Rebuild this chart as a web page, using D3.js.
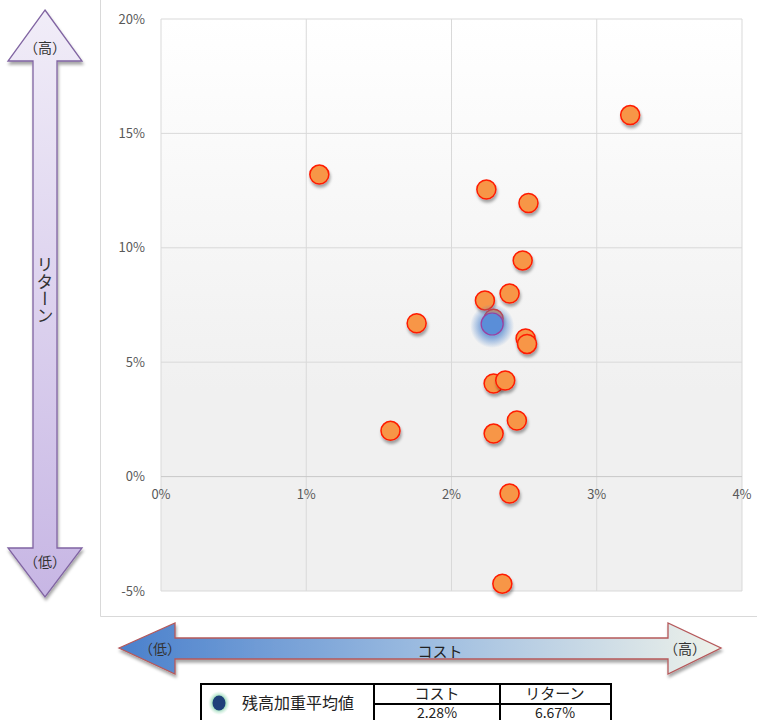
<!DOCTYPE html>
<html>
<head>
<meta charset="utf-8">
<script src="https://cdn.jsdelivr.net/npm/d3@7"></script>
<style>
  body { margin: 0; background: #fff; }
  svg { display: block; font-family: "Noto Sans CJK JP", "Noto Sans", sans-serif; }
</style>
</head>
<body>
<svg id="chart" width="757" height="720"></svg>
<script>
// コスト / リターン (%)
var costs   = [3.23, 1.09, 2.24, 2.53, 2.49, 2.40, 2.23, 2.29, 1.76, 2.51, 2.52, 2.29, 2.37, 2.45, 1.58, 2.29, 2.40, 2.35];
var returns = [15.8, 13.2, 12.55, 11.96, 9.45, 8.0, 7.7, 6.9, 6.7, 6.04, 5.8, 4.07, 4.2, 2.45, 2.0, 1.88, -0.74, -4.68];
var avgCost = 2.28, avgReturn = 6.67;
var xTicks = [0, 1, 2, 3, 4];
var yTicks = [-5, 0, 5, 10, 15, 20];
var legendName = '残高加重平均値';
var tableHeads = ['コスト', 'リターン'];

var svg = d3.select('#chart');
var x = d3.scaleLinear().domain([0, 4]).range([161, 742]);
var y = d3.scaleLinear().domain([-5, 20]).range([591, 19]);

var defs = svg.append('defs');
var bg = defs.append('linearGradient').attr('id', 'bg').attr('x1', 0).attr('y1', 0).attr('x2', 0).attr('y2', 1);
bg.append('stop').attr('offset', '0').attr('stop-color', '#ffffff');
bg.append('stop').attr('offset', '0.65').attr('stop-color', '#f0f0f0');
bg.append('stop').attr('offset', '1').attr('stop-color', '#f0f0f0');

var vg = defs.append('linearGradient').attr('id', 'vg').attr('x1', 0).attr('y1', 0).attr('x2', 0).attr('y2', 1);
vg.append('stop').attr('offset', '0').attr('stop-color', '#f1edf8');
vg.append('stop').attr('offset', '1').attr('stop-color', '#c7b6e4');

var hg = defs.append('linearGradient').attr('id', 'hg').attr('x1', 0).attr('y1', 0).attr('x2', 1).attr('y2', 0);
hg.append('stop').attr('offset', '0').attr('stop-color', '#4a80cc');
hg.append('stop').attr('offset', '0.5').attr('stop-color', '#9bbbe0');
hg.append('stop').attr('offset', '1').attr('stop-color', '#eef2ea');

var sh = defs.append('filter').attr('id', 'shadow').attr('x', '-50%').attr('y', '-50%').attr('width', '200%').attr('height', '200%');
sh.append('feDropShadow').attr('dx', 1).attr('dy', 3).attr('stdDeviation', 1.6).attr('flood-color', '#000').attr('flood-opacity', 0.35);

var glow = defs.append('radialGradient').attr('id', 'glow');
glow.append('stop').attr('offset', '0.5').attr('stop-color', '#4f86cf').attr('stop-opacity', 0.7);
glow.append('stop').attr('offset', '1').attr('stop-color', '#4f86cf').attr('stop-opacity', 0);

var lglow = defs.append('radialGradient').attr('id', 'lglow');
lglow.append('stop').attr('offset', '0.55').attr('stop-color', '#7fd0a8').attr('stop-opacity', 0.9);
lglow.append('stop').attr('offset', '1').attr('stop-color', '#bfe8d0').attr('stop-opacity', 0);

// chart area frame
svg.append('path').attr('d', 'M100.5,0 V616.5 H757').attr('fill', 'none').attr('stroke', '#d9d9d9');

// plot area
svg.append('rect').attr('x', x(0)).attr('y', y(20)).attr('width', x(4) - x(0)).attr('height', y(-5) - y(20)).attr('fill', 'url(#bg)');

svg.append('g').selectAll('line').data(xTicks).join('line')
  .attr('x1', d => x(d)).attr('x2', d => x(d)).attr('y1', y(20)).attr('y2', y(-5))
  .attr('stroke', '#d9d9d9');
svg.append('g').selectAll('line').data(yTicks).join('line')
  .attr('x1', x(0)).attr('x2', x(4)).attr('y1', d => y(d)).attr('y2', d => y(d))
  .attr('stroke', d => d === 0 ? '#c8c8c8' : '#d9d9d9');

svg.append('g').selectAll('text').data(yTicks).join('text')
  .attr('x', 145).attr('y', d => y(d)).attr('dy', '0.35em')
  .attr('text-anchor', 'end').attr('font-size', 13).attr('fill', '#595959')
  .text(d => d + '%');
svg.append('g').selectAll('text').data(xTicks).join('text')
  .attr('x', d => x(d)).attr('y', y(0) + 22)
  .attr('text-anchor', 'middle').attr('font-size', 13).attr('fill', '#595959')
  .text(d => d + '%');

// points
var pts = costs.map((c, i) => ({ c: c, r: returns[i] }));
svg.append('g').selectAll('circle').data(pts).join('circle')
  .attr('cx', d => x(d.c)).attr('cy', d => y(d.r)).attr('r', 9.5)
  .attr('fill', '#f79646').attr('stroke', '#ff1a00').attr('stroke-width', 1.5)
  .attr('filter', 'url(#shadow)');

svg.append('circle').attr('cx', x(avgCost)).attr('cy', y(avgReturn) + 2).attr('r', 22).attr('fill', 'url(#glow)');
svg.append('circle').attr('cx', x(avgCost)).attr('cy', y(avgReturn)).attr('r', 11)
  .attr('fill', '#5a8ed8').attr('stroke', '#9b3fa0').attr('stroke-width', 1.2);

// vertical arrow (リターン)
var vArrow = d3.path();
vArrow.moveTo(45, 10); vArrow.lineTo(82, 61); vArrow.lineTo(57, 61); vArrow.lineTo(57, 548);
vArrow.lineTo(82, 548); vArrow.lineTo(45, 597); vArrow.lineTo(8, 548); vArrow.lineTo(33, 548);
vArrow.lineTo(33, 61); vArrow.lineTo(8, 61); vArrow.closePath();
svg.append('path').attr('d', vArrow.toString()).attr('fill', 'url(#vg)')
  .attr('stroke', '#8064a2').attr('stroke-width', 1.3).attr('filter', 'url(#shadow)');
svg.append('text').attr('x', 45).attr('y', 48).attr('dy', '0.35em').attr('text-anchor', 'middle')
  .attr('font-size', 14).attr('fill', '#333').text('（高）');
svg.append('text').attr('x', 45).attr('y', 562).attr('dy', '0.35em').attr('text-anchor', 'middle')
  .attr('font-size', 14).attr('fill', '#333').text('（低）');
svg.append('text').attr('x', 45).attr('y', 290)
  .style('writing-mode', 'vertical-rl').style('text-orientation', 'upright')
  .attr('text-anchor', 'middle').attr('font-size', 17).attr('fill', '#333').text('リターン');

// horizontal arrow (コスト)
var hArrow = d3.path();
hArrow.moveTo(119, 648); hArrow.lineTo(175, 623); hArrow.lineTo(175, 638); hArrow.lineTo(668, 638);
hArrow.lineTo(668, 623); hArrow.lineTo(721, 648); hArrow.lineTo(668, 674); hArrow.lineTo(668, 659);
hArrow.lineTo(175, 659); hArrow.lineTo(175, 674); hArrow.closePath();
svg.append('path').attr('d', hArrow.toString()).attr('fill', 'url(#hg)')
  .attr('stroke', '#b5585a').attr('stroke-width', 1.3).attr('filter', 'url(#shadow)');
svg.append('text').attr('x', 160).attr('y', 649).attr('dy', '0.35em').attr('text-anchor', 'middle')
  .attr('font-size', 14).attr('fill', '#333').text('（低）');
svg.append('text').attr('x', 685).attr('y', 649).attr('dy', '0.35em').attr('text-anchor', 'middle')
  .attr('font-size', 14).attr('fill', '#333').text('（高）');
svg.append('text').attr('x', 440).attr('y', 652).attr('dy', '0.35em').attr('text-anchor', 'middle')
  .attr('font-size', 15).attr('fill', '#222').text('コスト');

// legend table
var tb = svg.append('g');
tb.append('rect').attr('x', 201).attr('y', 684).attr('width', 410).attr('height', 50)
  .attr('fill', '#fff').attr('stroke', '#000').attr('stroke-width', 2);
[374, 500].forEach(v => tb.append('line').attr('x1', v).attr('x2', v).attr('y1', 684).attr('y2', 734).attr('stroke', '#000').attr('stroke-width', 2));
tb.append('line').attr('x1', 374).attr('x2', 611).attr('y1', 704).attr('y2', 704).attr('stroke', '#000').attr('stroke-width', 2);
tb.append('ellipse').attr('cx', 219).attr('cy', 703).attr('rx', 11).attr('ry', 12).attr('fill', 'url(#lglow)');
tb.append('ellipse').attr('cx', 219).attr('cy', 703).attr('rx', 6.5).attr('ry', 7.5).attr('fill', '#1f3f7a');
tb.append('text').attr('x', 242).attr('y', 703).attr('dy', '0.35em').attr('font-size', 16).attr('fill', '#222').text(legendName);
tb.selectAll('.hd').data(tableHeads).join('text').attr('class', 'hd')
  .attr('x', (d, i) => [437, 555][i]).attr('y', 694).attr('dy', '0.35em')
  .attr('text-anchor', 'middle').attr('font-size', 15).attr('fill', '#222').text(d => d);
tb.selectAll('.vl').data([avgCost, avgReturn]).join('text').attr('class', 'vl')
  .attr('x', (d, i) => [437, 555][i]).attr('y', 713).attr('dy', '0.35em')
  .attr('text-anchor', 'middle').attr('font-size', 14).attr('fill', '#222').text(d => d.toFixed(2) + '%');
</script>
</body>
</html>
